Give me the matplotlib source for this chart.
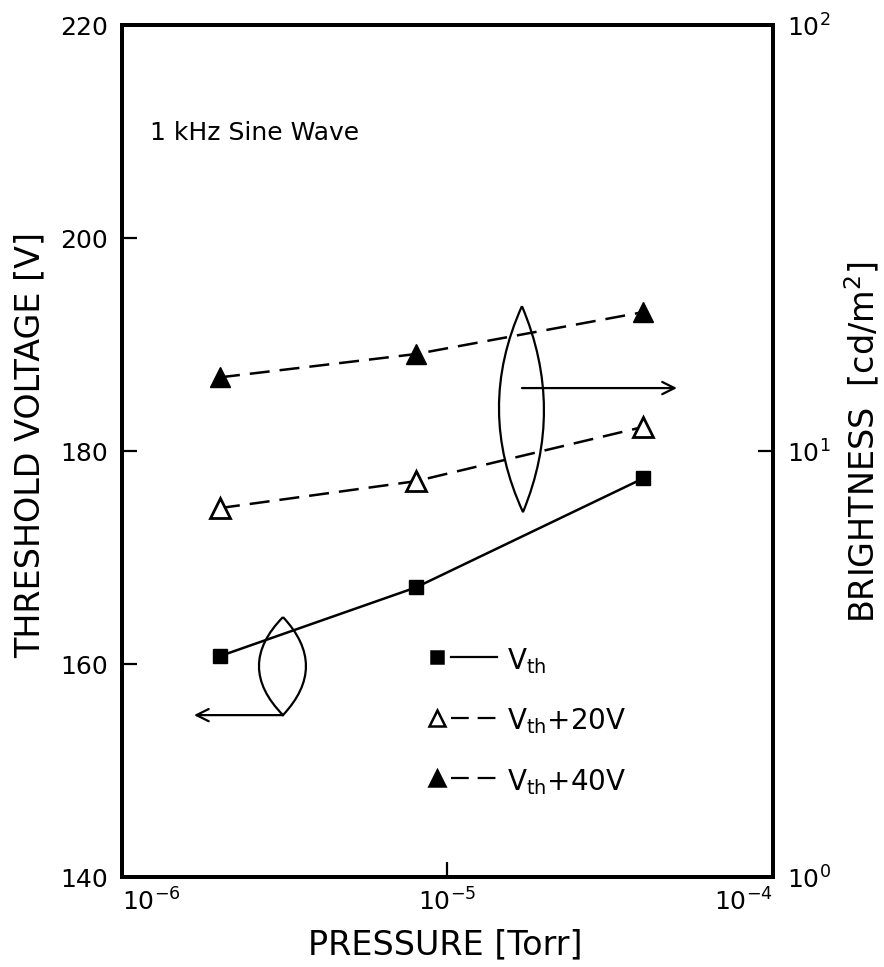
import matplotlib

matplotlib.use("Agg")

import matplotlib.pyplot as plt
from matplotlib.lines import Line2D
from matplotlib.patches import PathPatch
from matplotlib.path import Path
from matplotlib.ticker import FixedLocator, NullLocator

# data
pressure = [2.0e-6, 8.0e-6, 4.0e-5]
v_th = [160.75, 167.2, 177.45]
bright_20v = [7.35, 8.5, 11.4]
bright_40v = [14.9, 16.9, 21.2]

x_ticks = [1e-6, 1e-5, 1e-4]
x_tick_labels = [r"$10^{-6}$", r"$10^{-5}$", r"$10^{-4}$"]
left_ticks = [140, 160, 180, 200, 220]
right_ticks = [1, 10, 100]
right_tick_labels = [r"$10^{0}$", r"$10^{1}$", r"$10^{2}$"]

plt.rcParams["font.family"] = ["DejaVu Sans"]
plt.rcParams["mathtext.fontset"] = "dejavusans"

fig = plt.figure(figsize=(8.84, 9.67), dpi=100)
ax = fig.add_axes([0.138, 0.093, 0.7364, 0.881])
ax2 = ax.twinx()

ax.set_xscale("log")
ax2.set_yscale("log")

# threshold voltage on the left axis
ax.plot(pressure, v_th, color="black", lw=1.8, marker="s", ms=9.5,
        mec="black", mfc="black")

# brightness on the right axis
dash = (0, (8, 4))
ax2.plot(pressure, bright_20v, color="black", lw=1.8, ls=dash, marker="^",
         ms=14, mfc="white", mec="black", mew=2)
ax2.plot(pressure, bright_40v, color="black", lw=1.8, ls=dash, marker="^",
         ms=14, mfc="black", mec="black")

ax.set_xlim(1e-6, 1e-4)
ax.set_ylim(140, 220)
ax2.set_ylim(1, 100)
ax.set_autoscale_on(False)
ax2.set_autoscale_on(False)


# lens-shaped brackets with arrows pointing to the axis in use
def lens(axis, top, bottom, left_x, right_x):
    mid_x = (top[0] + bottom[0]) / 2
    mid_y = (top[1] + bottom[1]) / 2
    verts = [top, (2 * left_x - mid_x, mid_y), bottom,
             (2 * right_x - mid_x, mid_y), top]
    codes = [Path.MOVETO, Path.CURVE3, Path.CURVE3, Path.CURVE3, Path.CURVE3]
    patch = PathPatch(Path(verts, codes), transform=axis.transAxes,
                      fill=False, lw=1.6, ec="black", clip_on=False)
    axis.add_artist(patch)


lens(ax2, (0.2473, 0.3052), (0.2473, 0.1901), 0.2104, 0.2826)
ax2.annotate("", xy=(0.1106, 0.1901), xytext=(0.2473, 0.1901),
             xycoords="axes fraction",
             arrowprops=dict(arrowstyle="->", lw=1.6, color="black",
                             mutation_scale=22, shrinkA=0, shrinkB=0))

lens(ax2, (0.6144, 0.6702), (0.616, 0.4284), 0.5791, 0.6482)
ax2.annotate("", xy=(0.8525, 0.574), xytext=(0.6144, 0.574),
             xycoords="axes fraction",
             arrowprops=dict(arrowstyle="->", lw=1.6, color="black",
                             mutation_scale=22, shrinkA=0, shrinkB=0))

# hand-made legend: marker, then line sample, then label
legend_rows = [
    (0.258, "s", "black", "-", r"$\mathregular{V_{th}}$", 8),
    (0.187, "^", "white", dash, r"$\mathregular{V_{th}}$+20V", 11),
    (0.116, "^", "black", dash, r"$\mathregular{V_{th}}$+40V", 11),
]
for y, mk, fc, ls, label, size in legend_rows:
    ax2.add_artist(Line2D([0.484], [y], marker=mk, ms=size, mfc=fc,
                          mec="black", mew=1.8, ls="none",
                          transform=ax2.transAxes))
    ax2.add_artist(Line2D([0.505, 0.576], [y, y], color="black", lw=1.6,
                          ls=ls, transform=ax2.transAxes))
    ax2.text(0.591, y - 0.004, label, transform=ax2.transAxes, fontsize=20,
             ha="left", va="center")

# ticks
ax.xaxis.set_major_locator(FixedLocator(x_ticks))
ax.xaxis.set_minor_locator(NullLocator())
xlabels = ax.set_xticklabels(x_tick_labels)
xlabels[0].set_horizontalalignment("left")
xlabels[-1].set_horizontalalignment("right")
ax.set_yticks(left_ticks)
ax.set_yticklabels([str(t) for t in left_ticks])
ax2.yaxis.set_major_locator(FixedLocator(right_ticks))
ax2.yaxis.set_minor_locator(NullLocator())
ax2.set_yticklabels(right_tick_labels)

ax.tick_params(axis="both", direction="in", length=11, width=1.6,
               labelsize=18, pad=10)
ax.tick_params(axis="x", pad=8)
ax2.tick_params(axis="y", direction="in", length=11, width=1.6,
                labelsize=18, pad=10)

for a in (ax, ax2):
    for sp in a.spines.values():
        sp.set_linewidth(2.8)

# axis labels
ax.set_xlabel("PRESSURE [Torr]", fontsize=24, va="center")
ax.xaxis.set_label_coords(0.496, -0.08)
ax.set_ylabel("THRESHOLD VOLTAGE [V]", fontsize=24, va="center")
ax.yaxis.set_label_coords(-0.141, 0.507)
ax2.set_ylabel(r"BRIGHTNESS  [cd/m$^{2}$]", fontsize=24, va="center")
ax2.yaxis.set_label_coords(1.137, 0.51)

ax.text(0.043, 0.873, "1 kHz Sine Wave", transform=ax.transAxes,
        fontsize=18, ha="left", va="center")

ax.set_xlim(1e-6, 1e-4)

fig.savefig("out.png", dpi=100)
